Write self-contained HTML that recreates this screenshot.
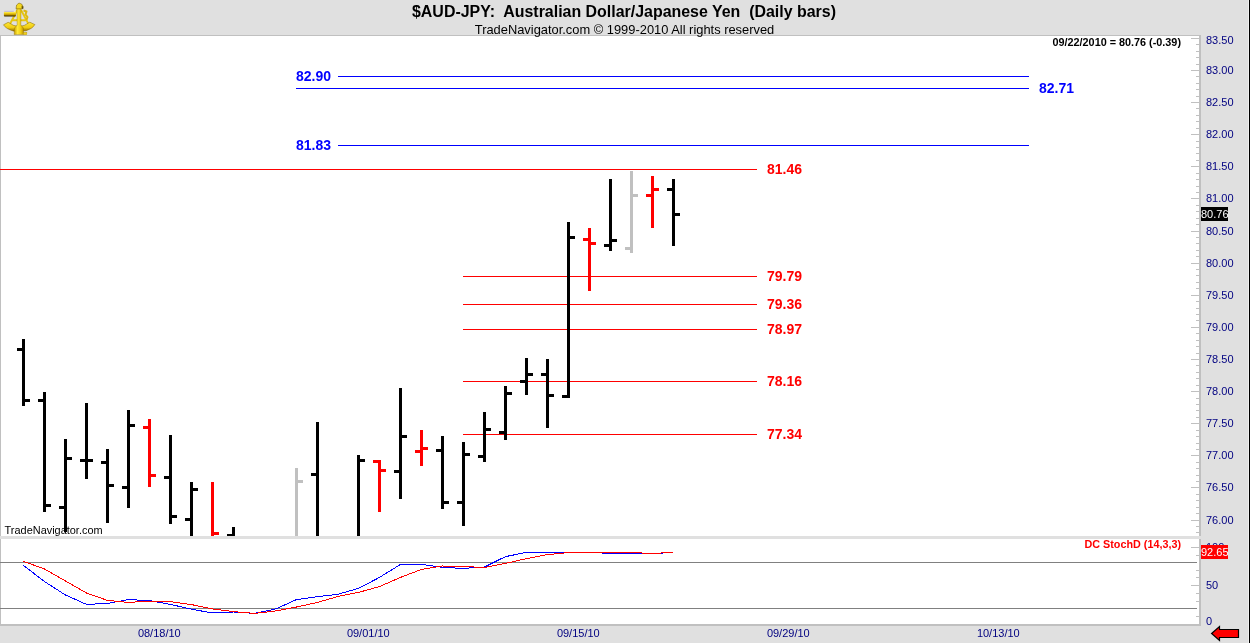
<!DOCTYPE html>
<html><head><meta charset="utf-8"><title>$AUD-JPY</title>
<style>
html,body{margin:0;padding:0;background:#e0e0e0;overflow:hidden}
body{width:1250px;height:643px;position:relative;font-family:"Liberation Sans",sans-serif}
svg{position:absolute;left:0;top:0;display:block}
text{font-family:"Liberation Sans",sans-serif}
.ax{font-size:11px;fill:#000080}
.lv{font-size:14px;font-weight:bold}
.sm{font-size:11px}
</style></head><body>
<svg width="1250" height="643" viewBox="0 0 1250 643">
<rect x="0" y="0" width="1250" height="643" fill="#e0e0e0"/>
<rect x="1248" y="0" width="1" height="643" fill="#f0f0f0"/><rect x="1249" y="0" width="1" height="643" fill="#000"/>
<!-- main chart area -->
<rect x="0" y="35" width="1201" height="501" fill="#c0c0c0"/>
<rect x="1" y="36" width="1198" height="500" fill="#fff"/>
<!-- sub panel -->
<rect x="0" y="536" width="1201" height="3" fill="#e0e0e0"/>
<rect x="0" y="539" width="1201" height="87" fill="#c0c0c0"/>
<rect x="1" y="539" width="1198" height="85" fill="#fff"/>
<g shape-rendering="crispEdges">
<rect x="338" y="76" width="691" height="1" fill="#00f"/>
<rect x="296" y="88" width="733" height="1" fill="#00f"/>
<rect x="338" y="145" width="691" height="1" fill="#00f"/>
<rect x="0" y="169" width="757" height="1" fill="#f00"/>
<rect x="463" y="276" width="294" height="1" fill="#f00"/>
<rect x="463" y="304" width="294" height="1" fill="#f00"/>
<rect x="463" y="329" width="294" height="1" fill="#f00"/>
<rect x="463" y="381" width="294" height="1" fill="#f00"/>
<rect x="463" y="434" width="294" height="1" fill="#f00"/>
<rect x="22" y="339" width="3" height="67" fill="#000"/>
<rect x="17" y="348" width="5" height="3" fill="#000"/>
<rect x="25" y="399" width="5" height="3" fill="#000"/>
<rect x="43" y="392" width="3" height="120" fill="#000"/>
<rect x="38" y="399" width="5" height="3" fill="#000"/>
<rect x="46" y="504" width="5" height="3" fill="#000"/>
<rect x="64" y="439" width="3" height="93" fill="#000"/>
<rect x="59" y="506" width="5" height="3" fill="#000"/>
<rect x="67" y="457" width="5" height="3" fill="#000"/>
<rect x="85" y="403" width="3" height="76" fill="#000"/>
<rect x="80" y="459" width="5" height="3" fill="#000"/>
<rect x="88" y="459" width="5" height="3" fill="#000"/>
<rect x="106" y="449" width="3" height="74" fill="#000"/>
<rect x="101" y="461" width="5" height="3" fill="#000"/>
<rect x="109" y="484" width="5" height="3" fill="#000"/>
<rect x="127" y="410" width="3" height="98" fill="#000"/>
<rect x="122" y="486" width="5" height="3" fill="#000"/>
<rect x="130" y="424" width="5" height="3" fill="#000"/>
<rect x="148" y="419" width="3" height="68" fill="#f00"/>
<rect x="143" y="426" width="5" height="3" fill="#f00"/>
<rect x="151" y="474" width="5" height="3" fill="#f00"/>
<rect x="169" y="435" width="3" height="89" fill="#000"/>
<rect x="164" y="476" width="5" height="3" fill="#000"/>
<rect x="172" y="515" width="5" height="3" fill="#000"/>
<rect x="190" y="482" width="3" height="54" fill="#000"/>
<rect x="185" y="518" width="5" height="3" fill="#000"/>
<rect x="193" y="488" width="5" height="3" fill="#000"/>
<rect x="211" y="482" width="3" height="54" fill="#f00"/>
<rect x="214" y="532" width="5" height="3" fill="#f00"/>
<rect x="232" y="527" width="3" height="9" fill="#000"/>
<rect x="227" y="534" width="5" height="2" fill="#000"/>
<rect x="295" y="468" width="3" height="68" fill="#c0c0c0"/>
<rect x="298" y="480" width="5" height="3" fill="#c0c0c0"/>
<rect x="316" y="422" width="3" height="114" fill="#000"/>
<rect x="311" y="473" width="5" height="3" fill="#000"/>
<rect x="357" y="455" width="3" height="81" fill="#000"/>
<rect x="360" y="459" width="5" height="3" fill="#000"/>
<rect x="378" y="460" width="3" height="52" fill="#f00"/>
<rect x="373" y="460" width="5" height="3" fill="#f00"/>
<rect x="381" y="469" width="5" height="3" fill="#f00"/>
<rect x="399" y="388" width="3" height="111" fill="#000"/>
<rect x="394" y="470" width="5" height="3" fill="#000"/>
<rect x="402" y="435" width="5" height="3" fill="#000"/>
<rect x="420" y="430" width="3" height="36" fill="#f00"/>
<rect x="415" y="450" width="5" height="3" fill="#f00"/>
<rect x="423" y="447" width="5" height="3" fill="#f00"/>
<rect x="441" y="436" width="3" height="73" fill="#000"/>
<rect x="436" y="449" width="5" height="3" fill="#000"/>
<rect x="444" y="501" width="5" height="3" fill="#000"/>
<rect x="462" y="442" width="3" height="84" fill="#000"/>
<rect x="457" y="501" width="5" height="3" fill="#000"/>
<rect x="465" y="453" width="5" height="3" fill="#000"/>
<rect x="483" y="412" width="3" height="50" fill="#000"/>
<rect x="478" y="455" width="5" height="3" fill="#000"/>
<rect x="486" y="428" width="5" height="3" fill="#000"/>
<rect x="504" y="386" width="3" height="54" fill="#000"/>
<rect x="499" y="431" width="5" height="3" fill="#000"/>
<rect x="507" y="392" width="5" height="3" fill="#000"/>
<rect x="525" y="358" width="3" height="37" fill="#000"/>
<rect x="520" y="380" width="5" height="3" fill="#000"/>
<rect x="528" y="373" width="5" height="3" fill="#000"/>
<rect x="546" y="359" width="3" height="69" fill="#000"/>
<rect x="541" y="373" width="5" height="3" fill="#000"/>
<rect x="549" y="394" width="5" height="3" fill="#000"/>
<rect x="567" y="222" width="3" height="176" fill="#000"/>
<rect x="562" y="395" width="5" height="3" fill="#000"/>
<rect x="570" y="236" width="5" height="3" fill="#000"/>
<rect x="588" y="228" width="3" height="63" fill="#f00"/>
<rect x="583" y="238" width="5" height="3" fill="#f00"/>
<rect x="591" y="242" width="5" height="3" fill="#f00"/>
<rect x="609" y="179" width="3" height="72" fill="#000"/>
<rect x="604" y="244" width="5" height="3" fill="#000"/>
<rect x="612" y="239" width="5" height="3" fill="#000"/>
<rect x="630" y="171" width="3" height="82" fill="#c0c0c0"/>
<rect x="625" y="247" width="5" height="3" fill="#c0c0c0"/>
<rect x="633" y="194" width="5" height="3" fill="#c0c0c0"/>
<rect x="651" y="176" width="3" height="52" fill="#f00"/>
<rect x="646" y="194" width="5" height="3" fill="#f00"/>
<rect x="654" y="188" width="5" height="3" fill="#f00"/>
<rect x="672" y="179" width="3" height="67" fill="#000"/>
<rect x="667" y="188" width="5" height="3" fill="#000"/>
<rect x="675" y="213" width="5" height="3" fill="#000"/>
<rect x="0" y="562" width="1197" height="1" fill="#808080"/>
<rect x="0" y="608" width="1197" height="1" fill="#808080"/>
<rect x="1191" y="38" width="8" height="1" fill="#c0c0c0"/>
<rect x="1196" y="44" width="3" height="1" fill="#c0c0c0"/>
<rect x="1196" y="51" width="3" height="1" fill="#c0c0c0"/>
<rect x="1196" y="57" width="3" height="1" fill="#c0c0c0"/>
<rect x="1196" y="64" width="3" height="1" fill="#c0c0c0"/>
<rect x="1191" y="70" width="8" height="1" fill="#c0c0c0"/>
<rect x="1196" y="76" width="3" height="1" fill="#c0c0c0"/>
<rect x="1196" y="83" width="3" height="1" fill="#c0c0c0"/>
<rect x="1196" y="89" width="3" height="1" fill="#c0c0c0"/>
<rect x="1196" y="96" width="3" height="1" fill="#c0c0c0"/>
<rect x="1191" y="102" width="8" height="1" fill="#c0c0c0"/>
<rect x="1196" y="108" width="3" height="1" fill="#c0c0c0"/>
<rect x="1196" y="115" width="3" height="1" fill="#c0c0c0"/>
<rect x="1196" y="121" width="3" height="1" fill="#c0c0c0"/>
<rect x="1196" y="128" width="3" height="1" fill="#c0c0c0"/>
<rect x="1191" y="134" width="8" height="1" fill="#c0c0c0"/>
<rect x="1196" y="141" width="3" height="1" fill="#c0c0c0"/>
<rect x="1196" y="147" width="3" height="1" fill="#c0c0c0"/>
<rect x="1196" y="153" width="3" height="1" fill="#c0c0c0"/>
<rect x="1196" y="160" width="3" height="1" fill="#c0c0c0"/>
<rect x="1191" y="166" width="8" height="1" fill="#c0c0c0"/>
<rect x="1196" y="173" width="3" height="1" fill="#c0c0c0"/>
<rect x="1196" y="179" width="3" height="1" fill="#c0c0c0"/>
<rect x="1196" y="186" width="3" height="1" fill="#c0c0c0"/>
<rect x="1196" y="192" width="3" height="1" fill="#c0c0c0"/>
<rect x="1191" y="198" width="8" height="1" fill="#c0c0c0"/>
<rect x="1196" y="205" width="3" height="1" fill="#c0c0c0"/>
<rect x="1196" y="211" width="3" height="1" fill="#c0c0c0"/>
<rect x="1196" y="218" width="3" height="1" fill="#c0c0c0"/>
<rect x="1196" y="224" width="3" height="1" fill="#c0c0c0"/>
<rect x="1191" y="231" width="8" height="1" fill="#c0c0c0"/>
<rect x="1196" y="237" width="3" height="1" fill="#c0c0c0"/>
<rect x="1196" y="243" width="3" height="1" fill="#c0c0c0"/>
<rect x="1196" y="250" width="3" height="1" fill="#c0c0c0"/>
<rect x="1196" y="256" width="3" height="1" fill="#c0c0c0"/>
<rect x="1191" y="263" width="8" height="1" fill="#c0c0c0"/>
<rect x="1196" y="269" width="3" height="1" fill="#c0c0c0"/>
<rect x="1196" y="275" width="3" height="1" fill="#c0c0c0"/>
<rect x="1196" y="282" width="3" height="1" fill="#c0c0c0"/>
<rect x="1196" y="288" width="3" height="1" fill="#c0c0c0"/>
<rect x="1191" y="295" width="8" height="1" fill="#c0c0c0"/>
<rect x="1196" y="301" width="3" height="1" fill="#c0c0c0"/>
<rect x="1196" y="308" width="3" height="1" fill="#c0c0c0"/>
<rect x="1196" y="314" width="3" height="1" fill="#c0c0c0"/>
<rect x="1196" y="320" width="3" height="1" fill="#c0c0c0"/>
<rect x="1191" y="327" width="8" height="1" fill="#c0c0c0"/>
<rect x="1196" y="333" width="3" height="1" fill="#c0c0c0"/>
<rect x="1196" y="340" width="3" height="1" fill="#c0c0c0"/>
<rect x="1196" y="346" width="3" height="1" fill="#c0c0c0"/>
<rect x="1196" y="353" width="3" height="1" fill="#c0c0c0"/>
<rect x="1191" y="359" width="8" height="1" fill="#c0c0c0"/>
<rect x="1196" y="365" width="3" height="1" fill="#c0c0c0"/>
<rect x="1196" y="372" width="3" height="1" fill="#c0c0c0"/>
<rect x="1196" y="378" width="3" height="1" fill="#c0c0c0"/>
<rect x="1196" y="385" width="3" height="1" fill="#c0c0c0"/>
<rect x="1191" y="391" width="8" height="1" fill="#c0c0c0"/>
<rect x="1196" y="398" width="3" height="1" fill="#c0c0c0"/>
<rect x="1196" y="404" width="3" height="1" fill="#c0c0c0"/>
<rect x="1196" y="410" width="3" height="1" fill="#c0c0c0"/>
<rect x="1196" y="417" width="3" height="1" fill="#c0c0c0"/>
<rect x="1191" y="423" width="8" height="1" fill="#c0c0c0"/>
<rect x="1196" y="430" width="3" height="1" fill="#c0c0c0"/>
<rect x="1196" y="436" width="3" height="1" fill="#c0c0c0"/>
<rect x="1196" y="443" width="3" height="1" fill="#c0c0c0"/>
<rect x="1196" y="449" width="3" height="1" fill="#c0c0c0"/>
<rect x="1191" y="455" width="8" height="1" fill="#c0c0c0"/>
<rect x="1196" y="462" width="3" height="1" fill="#c0c0c0"/>
<rect x="1196" y="468" width="3" height="1" fill="#c0c0c0"/>
<rect x="1196" y="475" width="3" height="1" fill="#c0c0c0"/>
<rect x="1196" y="481" width="3" height="1" fill="#c0c0c0"/>
<rect x="1191" y="487" width="8" height="1" fill="#c0c0c0"/>
<rect x="1196" y="494" width="3" height="1" fill="#c0c0c0"/>
<rect x="1196" y="500" width="3" height="1" fill="#c0c0c0"/>
<rect x="1196" y="507" width="3" height="1" fill="#c0c0c0"/>
<rect x="1196" y="513" width="3" height="1" fill="#c0c0c0"/>
<rect x="1191" y="520" width="8" height="1" fill="#c0c0c0"/>
<rect x="1196" y="526" width="3" height="1" fill="#c0c0c0"/>
<rect x="1196" y="532" width="3" height="1" fill="#c0c0c0"/>
<rect x="1191" y="547" width="8" height="1" fill="#c0c0c0"/>
<rect x="1196" y="555" width="3" height="1" fill="#c0c0c0"/>
<rect x="1196" y="570" width="3" height="1" fill="#c0c0c0"/>
<rect x="1196" y="577" width="3" height="1" fill="#c0c0c0"/>
<rect x="1191" y="585" width="8" height="1" fill="#c0c0c0"/>
<rect x="1196" y="593" width="3" height="1" fill="#c0c0c0"/>
<rect x="1196" y="601" width="3" height="1" fill="#c0c0c0"/>
<rect x="1196" y="616" width="3" height="1" fill="#c0c0c0"/>
</g>
<g shape-rendering="crispEdges">
<polyline points="23.5,565.4 44.5,581.6 65.5,595.0 86.5,604.4 107.5,603.4 128.5,599.6 149.5,600.6 170.5,604.4 191.5,609.2 212.5,613.0 233.5,612.0 254.5,613.4 275.5,609.0 296.5,599.6 317.5,596.6 337.5,594.4 358.5,588.4 379.5,577.4 400.5,564.4 421.5,564.4 442.5,567.4 463.5,568.4 484.5,567.0 505.5,556.6 526.5,552.4 547.5,552.4 568.5,552.4 589.5,552.4 610.5,553.4 631.5,553.4 652.5,553.4 673.5,552.6" fill="none" stroke="#00f" stroke-width="1"/>
<polyline points="23.5,561.4 44.5,569.0 65.5,581.0 86.5,593.0 107.5,600.4 128.5,602.4 149.5,601.2 170.5,601.6 191.5,604.6 212.5,609.0 233.5,611.6 254.5,613.4 275.5,611.0 296.5,607.0 317.5,602.4 337.5,596.6 358.5,592.4 379.5,586.6 400.5,577.4 421.5,569.4 442.5,566.0 463.5,566.6 484.5,567.4 505.5,563.4 526.5,558.6 547.5,554.6 568.5,552.6 589.5,552.4 610.5,552.4 631.5,552.6 652.5,553.4 673.5,552.4" fill="none" stroke="#f00" stroke-width="1"/>
</g>
<g id="sextant">
<defs><linearGradient id="gcol" x1="0" y1="0" x2="1" y2="0"><stop offset="0" stop-color="#c8a000"/><stop offset="0.35" stop-color="#ffe838"/><stop offset="0.7" stop-color="#f0cc10"/><stop offset="1" stop-color="#b89000"/></linearGradient>
<linearGradient id="gtel" x1="0" y1="0" x2="0" y2="1"><stop offset="0" stop-color="#fff8b0"/><stop offset="0.3" stop-color="#f8dc20"/><stop offset="0.62" stop-color="#c8a000"/><stop offset="0.85" stop-color="#5a4400"/><stop offset="1" stop-color="#2a1e00"/></linearGradient>
<linearGradient id="garc" x1="0" y1="0" x2="0" y2="1"><stop offset="0" stop-color="#ffe838"/><stop offset="0.6" stop-color="#f0cc10"/><stop offset="1" stop-color="#8a6800"/></linearGradient></defs>
<path d="M17.3 10 L10 24 M21 10 L28.3 23.6 M12 20.2 L26.5 20.2" stroke="#e6c610" stroke-width="1.9" fill="none"/>
<path d="M23.5 10.5 L26.5 11.5 L25.5 14.5 L27.5 17 L26.5 20" stroke="#dcb810" stroke-width="2" fill="none" stroke-linejoin="round"/>
<path d="M3.5 24.8 L8.2 22.3 Q19 30.6 29.8 22.2 L34.9 24.6 Q33 28.6 26 30.8 L14 31.2 Q6 29.1 3.5 24.8 Z" fill="url(#garc)" stroke="#806000" stroke-width="0.5"/>
<rect x="3.9" y="11.3" width="12" height="5.3" rx="0.8" fill="url(#gtel)"/>
<rect x="4.2" y="10.9" width="9.5" height="0.7" fill="#8080ff" opacity="0.7"/>
<path d="M17 7 L21 7 L20.8 25 L23.4 28 L23.6 34.6 L14.2 34.6 L14.5 28 L17.2 25 Z" fill="url(#gcol)" stroke="#907000" stroke-width="0.4"/>
<path d="M16 8.8 L16.6 5 L19 3 L21.8 4.2 L23 6.5 L22.6 8.8 Z" fill="#f4d820" stroke="#6a5200" stroke-width="0.5"/>
<path d="M21.6 5.4 L23.4 6.8 L23.2 9 L21.6 8.6 Z" fill="#4a3a00" opacity="0.8"/>
<rect x="23.6" y="32.3" width="3.3" height="2.5" fill="#f0d018" stroke="#a88400" stroke-width="0.3"/>
</g>
<text x="624" y="17" text-anchor="middle" textLength="424" lengthAdjust="spacingAndGlyphs" font-size="16" font-weight="bold" fill="#000" xml:space="preserve">$AUD-JPY:  Australian Dollar/Japanese Yen  (Daily bars)</text>
<text x="624.5" y="34" text-anchor="middle" textLength="299.5" lengthAdjust="spacingAndGlyphs" font-size="13" fill="#000">TradeNavigator.com © 1999-2010 All rights reserved</text>
<text x="1181" y="46" text-anchor="end" textLength="128.5" lengthAdjust="spacingAndGlyphs" class="sm" font-weight="bold" fill="#000">09/22/2010 = 80.76 (-0.39)</text>
<text x="296" y="80.5" class="lv" fill="#00f">82.90</text>
<text x="1039" y="92.5" class="lv" fill="#00f">82.71</text>
<text x="296" y="149.5" class="lv" fill="#00f">81.83</text>
<text x="767" y="173.5" class="lv" fill="#f00">81.46</text>
<text x="767" y="280.5" class="lv" fill="#f00">79.79</text>
<text x="767" y="308.5" class="lv" fill="#f00">79.36</text>
<text x="767" y="333.5" class="lv" fill="#f00">78.97</text>
<text x="767" y="385.5" class="lv" fill="#f00">78.16</text>
<text x="767" y="438.5" class="lv" fill="#f00">77.34</text>
<text x="4.6" y="534" textLength="98" lengthAdjust="spacingAndGlyphs" class="sm" fill="#000">TradeNavigator.com</text>
<text x="1181" y="548" text-anchor="end" textLength="96.5" lengthAdjust="spacingAndGlyphs" class="sm" font-weight="bold" fill="#f00">DC StochD (14,3,3)</text>
<text x="1206" y="44" class="ax">83.50</text>
<text x="1206" y="74" class="ax">83.00</text>
<text x="1206" y="106" class="ax">82.50</text>
<text x="1206" y="138" class="ax">82.00</text>
<text x="1206" y="170" class="ax">81.50</text>
<text x="1206" y="202" class="ax">81.00</text>
<text x="1206" y="235" class="ax">80.50</text>
<text x="1206" y="267" class="ax">80.00</text>
<text x="1206" y="299" class="ax">79.50</text>
<text x="1206" y="331" class="ax">79.00</text>
<text x="1206" y="363" class="ax">78.50</text>
<text x="1206" y="395" class="ax">78.00</text>
<text x="1206" y="427" class="ax">77.50</text>
<text x="1206" y="459" class="ax">77.00</text>
<text x="1206" y="491" class="ax">76.50</text>
<text x="1206" y="524" class="ax">76.00</text>
<text x="1206" y="551" class="ax">100</text>
<text x="1206" y="589" class="ax">50</text>
<text x="1206" y="625" class="ax">0</text>
<rect x="1201" y="207" width="27" height="14" fill="#000"/>
<text x="1201" y="218" class="sm" fill="#fff">80.76</text>
<rect x="1201" y="545" width="27" height="14" fill="#f00"/>
<text x="1201" y="556" class="sm" fill="#fff">92.65</text>
<text x="159.3" y="637" class="ax" text-anchor="middle">08/18/10</text>
<text x="368.3" y="637" class="ax" text-anchor="middle">09/01/10</text>
<text x="578.3" y="637" class="ax" text-anchor="middle">09/15/10</text>
<text x="788.3" y="637" class="ax" text-anchor="middle">09/29/10</text>
<text x="998.3" y="637" class="ax" text-anchor="middle">10/13/10</text>
<path d="M1211.6 633.5 L1219.5 626.5 L1219.5 629.5 L1238.5 629.5 L1238.5 637.5 L1219.5 637.5 L1219.5 640.5 Z" fill="#f00" stroke="#000" stroke-width="1.2" stroke-linejoin="miter"/>
</svg>
</body></html>
